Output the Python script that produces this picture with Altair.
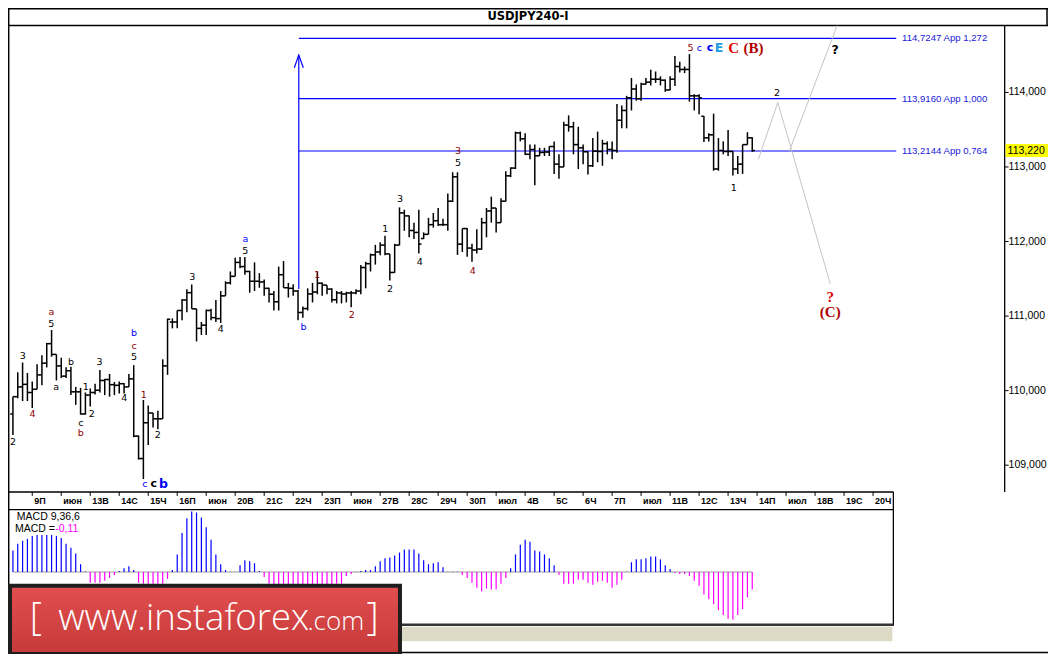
import altair as alt
import pandas as pd

# ---------------- data ----------------
bar_index = list(range(154))
bar_open = [109.687,109.919,110.050,110.084,109.975,110.018,110.211,110.368,110.630,110.486,
            110.332,110.194,110.267,109.984,109.984,109.687,109.940,109.975,110.005,110.136,
            110.149,110.080,110.071,110.093,110.050,110.158,109.390,109.089,109.569,109.700,
            109.622,109.622,110.332,110.920,110.921,111.075,111.215,111.314,111.097,110.835,
            110.878,111.075,110.979,110.966,111.271,111.445,111.533,111.720,111.664,111.598,
            111.467,111.467,111.458,111.372,111.293,111.192,111.555,111.380,111.372,111.336,
            111.048,111.101,111.297,111.323,111.441,111.415,111.362,111.219,111.310,111.297,
            111.310,111.310,111.336,111.651,111.703,111.821,111.860,111.952,111.834,111.585,
            111.952,112.384,112.344,112.148,112.122,112.040,112.096,112.226,112.279,112.226,
            112.226,112.541,112.868,111.965,112.174,111.912,111.886,111.899,112.253,112.410,
            112.449,112.253,112.541,112.881,112.985,113.457,113.378,113.170,113.234,113.150,
            113.195,113.200,113.274,113.038,113.000,113.562,113.539,113.300,113.257,113.204,
            113.016,113.212,113.208,113.313,113.234,113.221,113.627,113.758,113.928,114.046,
            113.915,114.111,114.137,114.177,114.177,114.164,114.033,114.177,114.347,114.308,
            114.308,113.954,113.954,113.680,113.391,113.431,112.973,113.221,113.208,113.208,
            112.973,113.038,113.300,113.391]
bar_high = [109.919,110.246,110.377,110.237,110.123,110.355,110.473,110.639,110.813,110.486,
            110.442,110.312,110.319,110.050,110.037,109.975,110.027,110.093,110.276,110.158,
            110.224,110.115,110.123,110.102,110.224,110.342,109.399,109.874,109.801,109.700,
            109.730,110.420,110.966,110.970,111.075,111.228,111.359,111.424,111.097,110.921,
            111.089,111.097,111.215,111.336,111.467,111.598,111.781,111.794,111.794,111.607,
            111.720,111.576,111.490,111.380,111.336,111.664,111.738,111.445,111.428,111.349,
            111.127,111.372,111.445,111.589,111.450,111.415,111.372,111.336,111.336,111.327,
            111.336,111.359,111.686,111.729,111.838,111.955,111.991,112.079,111.834,111.969,
            112.458,112.427,112.350,112.253,112.427,112.122,112.318,112.383,112.449,112.305,
            112.645,112.929,112.929,112.174,112.180,111.969,112.165,112.318,112.449,112.602,
            112.450,112.580,112.942,112.995,113.474,113.474,113.453,113.300,113.300,113.257,
            113.257,113.277,113.343,113.170,113.605,113.692,113.605,113.539,113.300,113.210,
            113.387,113.474,113.365,113.343,113.343,113.846,113.823,113.954,114.194,114.107,
            114.128,114.194,114.304,114.281,114.216,114.173,114.216,114.487,114.412,114.347,
            114.513,113.976,113.976,113.683,113.453,113.715,113.387,113.343,113.496,113.212,
            113.147,113.300,113.466,113.400]
bar_low = [109.406,109.897,109.861,109.861,109.766,110.018,110.071,110.312,110.455,110.136,
           110.168,110.168,109.940,109.809,109.678,109.678,109.788,109.949,109.975,109.940,
           109.919,109.940,109.962,109.962,110.050,109.375,109.076,108.814,109.272,109.504,
           109.482,109.622,110.211,110.835,110.835,110.944,111.052,111.097,110.660,110.747,
           110.747,110.944,110.921,110.908,111.271,111.424,111.533,111.641,111.555,111.314,
           111.336,111.380,111.271,111.183,111.075,111.075,111.380,111.249,111.271,110.944,
           110.979,111.075,111.183,111.293,111.271,111.293,111.183,111.170,111.170,111.183,
           111.118,111.293,111.293,111.372,111.598,111.690,111.817,111.817,111.476,111.580,
           111.950,112.144,112.056,112.034,111.838,112.034,112.096,112.187,112.209,112.209,
           112.144,112.530,111.821,111.860,111.795,111.729,111.838,111.890,112.056,112.253,
           112.122,112.253,112.537,112.864,112.973,113.343,113.160,113.103,112.754,113.147,
           113.147,113.147,112.907,112.842,113.000,113.474,113.170,112.973,113.038,112.898,
           113.000,113.064,113.016,113.169,113.103,113.191,113.518,113.518,113.758,113.889,
           113.889,114.107,114.094,114.128,114.094,114.007,114.030,114.085,114.268,114.259,
           113.876,113.758,113.706,113.335,113.343,112.950,112.950,113.169,113.147,112.885,
           112.907,112.907,113.300,113.204]
bar_close = [109.919,110.050,110.084,109.975,110.018,110.211,110.368,110.630,110.486,110.332,
             110.194,110.267,109.984,109.984,109.687,109.940,109.975,110.005,110.136,110.149,
             110.080,110.071,110.093,110.050,110.158,109.390,109.089,109.569,109.700,109.622,
             109.622,110.332,110.957,110.921,111.075,111.215,111.314,111.097,110.835,110.878,
             111.075,110.979,110.966,111.271,111.445,111.533,111.720,111.664,111.598,111.467,
             111.467,111.458,111.372,111.293,111.192,111.555,111.380,111.372,111.336,111.048,
             111.101,111.297,111.323,111.441,111.415,111.362,111.219,111.310,111.297,111.310,
             111.310,111.336,111.651,111.703,111.821,111.860,111.952,111.834,111.585,111.952,
             112.384,112.344,112.148,112.122,111.965,112.096,112.226,112.279,112.226,112.226,
             112.541,112.868,111.965,112.174,111.912,111.886,111.899,112.253,112.410,112.449,
             112.253,112.541,112.881,112.985,113.457,113.378,113.170,113.234,113.150,113.195,
             113.200,113.274,113.038,113.000,113.562,113.539,113.300,113.257,113.204,113.016,
             113.212,113.208,113.313,113.234,113.221,113.627,113.758,113.928,114.046,113.915,
             114.111,114.137,114.177,114.177,114.164,114.033,114.177,114.347,114.308,114.308,
             113.954,113.954,113.928,113.391,113.431,112.973,113.221,113.208,113.208,112.973,
             113.038,113.300,113.391,113.220]
macd_hist = [0.132,0.174,0.192,0.204,0.222,0.228,0.228,0.228,0.228,0.222,
             0.210,0.174,0.150,0.114,0.048,0.003,-0.066,-0.066,-0.066,-0.054,
             -0.036,-0.018,0.006,0.024,0.036,0.012,-0.066,-0.072,-0.072,-0.072,
             -0.072,-0.072,-0.042,0.012,0.108,0.240,0.330,0.372,0.366,0.336,
             0.276,0.198,0.108,0.048,0.012,0.002,0.002,0.042,0.072,0.066,
             0.054,0.006,-0.030,-0.072,-0.084,-0.102,-0.114,-0.120,-0.120,-0.114,
             -0.108,-0.108,-0.102,-0.096,-0.090,-0.084,-0.078,-0.072,-0.072,-0.024,
             -0.012,0.002,0.006,0.012,0.012,0.036,0.066,0.084,0.090,0.102,
             0.120,0.138,0.138,0.138,0.114,0.072,0.048,0.054,0.060,0.030,
             0.002,0.002,0.002,-0.018,-0.036,-0.066,-0.096,-0.120,-0.102,-0.108,
             -0.108,-0.072,-0.036,0.024,0.108,0.168,0.198,0.186,0.132,0.126,
             0.108,0.084,0.042,-0.018,-0.072,-0.072,-0.072,-0.048,-0.048,-0.066,
             -0.078,-0.060,-0.054,-0.066,-0.096,-0.078,-0.048,0.002,0.060,0.078,
             0.078,0.084,0.096,0.096,0.078,0.042,0.018,-0.006,-0.012,-0.012,
             -0.024,-0.054,-0.084,-0.138,-0.168,-0.198,-0.234,-0.264,-0.288,-0.294,
             -0.264,-0.228,-0.156,-0.108]

date_bars = [4,10,16,22,28,34,40,46,52,58,64,70,76,82,88,94,100,106,112,118,
             124,130,136,142,148,154,160,166,172,178]
date_labels = ["9П","июн","13В","14С","15Ч","16П","июн","20В","21С","22Ч","23П","июн",
               "27В","28С","29Ч","30П","июл","4В","5С","6Ч","7П","июл","11В","12С","13Ч",
               "14П","июл","18В","19С","20Ч"]
price_ticks = [109, 110, 111, 112, 113, 114]
price_tick_labels = ["109,000","110,000","111,000","112,000","113,000","114,000"]
last_price = 113.220
last_price_label = "113,220"

fib_levels = [114.7247, 113.9160, 113.2144]
fib_labels = ["114,7247 App 1,272", "113,9160 App 1,000", "113,2144 App 0,764"]
fib_start_bar = 59.16
fib_end_bar = 182.8
fib_label_bar = 184.0
arrow_bar = 59.16
arrow_from = 111.363
arrow_to = 114.5

proj1_bar = [154.27, 158.28, 169.15]
proj1_price = [113.103, 113.866, 111.432]
proj2_bar = [160.65, 170.57]
proj2_price = [113.212, 114.897]

# wave labels (normal weight)
wave_text = ["2","3","4","a","5","a","b","1","c","b","2","3","4","b","c","5","1","2","c",
             "3","4","a","5","b","1","2","1","2","3","4","3","5","4","5","c","1","2"]
wave_bar = [0.0,2.04,4.08,7.95,7.95,8.97,12.02,15.08,14.06,14.06,16.3,17.93,23.03,25.07,25.07,
            25.07,27.1,29.96,27.3,37.09,43.0,48.09,48.09,60.12,62.97,70.1,77.03,78.05,80.09,
            84.17,92.11,92.11,95.17,140.2,142.04,149.18,158.14]
wave_price = [109.31,110.46,109.69,111.06,110.90,110.05,110.38,110.05,109.57,109.43,109.69,
              110.38,109.90,110.77,110.60,110.45,109.94,109.40,108.75,111.52,110.83,112.03,
              111.87,110.85,111.55,111.02,112.17,111.36,112.57,111.73,113.21,113.05,111.61,
              114.60,114.60,112.72,113.99]
wave_tone = ["k","k","m","m","k","k","k","k","k","m","k","k","k","b","m","k","m","k","b",
             "k","k","b","k","b","m","m","k","k","k","k","m","k","m","m","b","k","k"]
# bold sans labels
bold_text = ["c", "c", "?", "b", "E"]
bold_bar = [29.14, 144.28, 170.16, 31.18, 146.1]
bold_price = [108.75, 114.60, 114.57, 108.75, 114.60]
bold_tone = ["k", "b", "k", "b", "c"]
bold_big = [False, False, True, True, True]
# serif bold labels
serif_text = ["C", "(B)", "?", "(C)"]
serif_bar = [149.18, 153.25, 169.14, 169.14]
serif_price = [114.60, 114.60, 111.26, 111.06]
serif_tone = ["r", "d", "r", "d"]

# ---------------- layout helpers ----------------
SX = 1040 / 1056
SY = 646 / 662


def PX(v):
    return round(v * SX, 2)


def PY(v):
    return round(v * SY, 2)


xs = alt.Scale(domain=[0, 153], range=[PX(5), PX(755.7)], nice=False, zero=False)
ps = alt.Scale(domain=[109, 114], range=[PY(468.5), PY(86.5)], nice=False, zero=False)
ms = alt.Scale(domain=[-0.3, 0.3], range=[PY(628), PY(528)], nice=False, zero=False)
tone_scale = alt.Scale(domain=["k", "m", "b", "c", "r", "d"],
                       range=["#000000", "#8b0000", "#0000ff", "#1e9be6", "#e00000", "#b00000"])

one = pd.DataFrame({"k": [0]})


def X(f):
    return alt.X(f, scale=xs, axis=None)


def YP(f):
    return alt.Y(f, scale=ps, axis=None)


def seg(x0, y0, x1, y1, color="black", w=1.0):
    return alt.Chart(one).mark_rule(color=color, strokeWidth=w, strokeCap="butt").encode(
        x=alt.value(PX(x0)), x2=alt.value(PX(x1)), y=alt.value(PY(y0)), y2=alt.value(PY(y1)))


def fixed_text(txt, x, y, **kw):
    align = kw.pop("align", "left")
    return alt.Chart(one).mark_text(text=txt, align=align, baseline="middle", **kw).encode(
        x=alt.value(PX(x)), y=alt.value(PY(y)))


layers = []

# frames
layers += [
    seg(0, 0.7, 1056, 0.7, w=1.5),
    seg(0, 18, 1056, 18, w=1.5),
    seg(0.7, 0, 0.7, 662, w=1.5),
    seg(1055, 0, 1055, 18, w=1.5),
    seg(1012, 18, 1012, 496, w=1.3),
    seg(0, 496, 899, 496, w=1.3),
    seg(0, 514, 899, 514, w=1.3),
    seg(899, 496, 899, 633, w=1.3),
    seg(0, 632, 899, 632, color="#333333", w=2.5),
    seg(0, 660.5, 1056, 660.5, w=1.5),
]
layers.append(alt.Chart(one).mark_rect(color="#dcdac4").encode(
    x=alt.value(PX(400)), x2=alt.value(PX(898)), y=alt.value(PY(634)), y2=alt.value(PY(649))))

# title
layers.append(fixed_text("USDJPY240-I", 528, 9.5, align="center", font="DejaVu Sans",
                         fontSize=11.5, fontWeight="bold", color="black"))

# fib lines and labels
fib_df = pd.DataFrame({"lvl": fib_levels, "lab": fib_labels, "s": [fib_start_bar] * 3,
                       "e": [fib_end_bar] * 3, "lb": [fib_label_bar] * 3})
layers.append(alt.Chart(fib_df).mark_rule(color="#0000ff", strokeWidth=1.2).encode(
    x=X("s:Q"), x2="e:Q", y=YP("lvl:Q")))
layers.append(alt.Chart(fib_df).mark_text(align="left", baseline="middle", font="Liberation Sans",
                                          fontSize=9.6, color="#1a1ad8").encode(
    x=X("lb:Q"), y=YP("lvl:Q"), text="lab:N"))

# arrow
arrow_df = pd.DataFrame({"i": [arrow_bar], "a": [arrow_from], "b": [arrow_to]})
layers.append(alt.Chart(arrow_df).mark_rule(color="#0000ff", strokeWidth=1.2).encode(
    x=X("i:Q"), y=YP("a:Q"), y2="b:Q"))
layers.append(alt.Chart(arrow_df).mark_point(shape="M -1 2.8 L 0 0 L 1 2.8", filled=False,
                                             color="#0000ff", size=81, strokeWidth=1.2,
                                             opacity=1).encode(
    x=X("i:Q"), y=YP("b:Q")))

# projection lines
p1 = pd.DataFrame({"i": proj1_bar, "p": proj1_price, "o": [0, 1, 2]})
p2 = pd.DataFrame({"i": proj2_bar, "p": proj2_price, "o": [0, 1]})
for d in (p1, p2):
    layers.append(alt.Chart(d).mark_line(color="#c4c4c4", strokeWidth=1).encode(
        x=X("i:Q"), y=YP("p:Q"), order="o:Q"))

# OHLC bars
bars = pd.DataFrame({"i": bar_index, "o": bar_open, "h": bar_high, "l": bar_low, "c": bar_close})
layers.append(alt.Chart(bars).mark_rule(color="black", strokeWidth=1.5).encode(
    x=X("i:Q"), y=YP("l:Q"), y2="h:Q"))
layers.append(alt.Chart(bars).transform_calculate(xa="datum.i - 0.55").mark_rule(
    color="black", strokeWidth=1.5).encode(x=X("xa:Q"), x2="i:Q", y=YP("o:Q")))
layers.append(alt.Chart(bars).transform_calculate(xb="datum.i + 0.55").mark_rule(
    color="black", strokeWidth=1.5).encode(x=X("i:Q"), x2="xb:Q", y=YP("c:Q")))

# wave labels
wl = pd.DataFrame({"t": wave_text, "i": wave_bar, "p": wave_price, "tone": wave_tone})
layers.append(alt.Chart(wl).mark_text(align="center", baseline="middle", font="DejaVu Sans",
                                      fontSize=9.5).encode(
    x=X("i:Q"), y=YP("p:Q"), text="t:N", color=alt.Color("tone:N", scale=tone_scale, legend=None)))
bl = pd.DataFrame({"t": bold_text, "i": bold_bar, "p": bold_price, "tone": bold_tone,
                   "big": bold_big})
layers.append(alt.Chart(bl).transform_filter("!datum.big").mark_text(
    align="center", baseline="middle", font="DejaVu Sans", fontSize=11, fontWeight="bold").encode(
    x=X("i:Q"), y=YP("p:Q"), text="t:N", color=alt.Color("tone:N", scale=tone_scale, legend=None)))
layers.append(alt.Chart(bl).transform_filter("datum.big").mark_text(
    align="center", baseline="middle", font="DejaVu Sans", fontSize=12.5, fontWeight="bold").encode(
    x=X("i:Q"), y=YP("p:Q"), text="t:N", color=alt.Color("tone:N", scale=tone_scale, legend=None)))
sl = pd.DataFrame({"t": serif_text, "i": serif_bar, "p": serif_price, "tone": serif_tone})
layers.append(alt.Chart(sl).mark_text(align="center", baseline="middle", font="Liberation Serif",
                                      fontSize=15, fontWeight="bold").encode(
    x=X("i:Q"), y=YP("p:Q"), text="t:N", color=alt.Color("tone:N", scale=tone_scale, legend=None)))

# price axis
pt = pd.DataFrame({"p": price_ticks, "lab": price_tick_labels})
layers.append(alt.Chart(pt).mark_rule(color="black", strokeWidth=1).encode(
    x=alt.value(PX(1012)), x2=alt.value(PX(1016)), y=YP("p:Q")))
layers.append(alt.Chart(pt).mark_text(align="left", baseline="middle", font="Liberation Sans",
                                      fontSize=10.5, color="black").encode(
    x=alt.value(PX(1016)), y=YP("p:Q"), text="lab:N"))
lp = pd.DataFrame({"p": [last_price], "lab": [last_price_label]})
layers.append(alt.Chart(lp).mark_rule(color="#ffff00", strokeWidth=13, strokeCap="butt").encode(
    x=alt.value(PX(1013)), x2=alt.value(PX(1056)), y=YP("p:Q")))
layers.append(alt.Chart(lp).mark_text(align="left", baseline="middle", font="Liberation Sans",
                                      fontSize=10.5, color="black").encode(
    x=alt.value(PX(1015)), y=YP("p:Q"), text="lab:N"))

# time axis
dd = pd.DataFrame({"i": date_bars, "t": date_labels})
layers.append(alt.Chart(dd).mark_rule(color="black", strokeWidth=1).encode(
    x=X("i:Q"), y=alt.value(PY(496)), y2=alt.value(PY(500))))
layers.append(alt.Chart(dd).mark_text(align="left", baseline="middle", dx=2, font="Liberation Sans",
                                      fontSize=9, fontWeight="bold", color="black").encode(
    x=X("i:Q"), y=alt.value(PY(505.5)), text="t:N"))

# MACD panel
zero_df = pd.DataFrame({"a": [0], "b": [153], "z": [0.0]})
layers.append(alt.Chart(zero_df).mark_rule(color="#9a9a9a", strokeWidth=1).encode(
    x=X("a:Q"), x2="b:Q", y=alt.Y("z:Q", scale=ms, axis=None)))
md = pd.DataFrame({"i": bar_index, "m": macd_hist})
layers.append(alt.Chart(md).mark_rule(strokeWidth=1.2).encode(
    x=X("i:Q"), y=alt.Y("m:Q", scale=ms, axis=None), y2=alt.datum(0),
    color=alt.condition("datum.m >= 0", alt.value("#0000ff"), alt.value("#ff00ff"))))
layers.append(fixed_text("MACD 9,36,6", 9, 522, font="Liberation Sans", fontSize=10.5, color="black"))
layers.append(fixed_text("MACD =", 7, 534, font="Liberation Sans", fontSize=10.5, color="black"))
layers.append(fixed_text("-0,11", 48, 534, font="Liberation Sans", fontSize=10.5, color="#ff00ff"))

# logo
grad = alt.Gradient(gradient="linear", stops=[alt.GradientStop(color="#e24e4e", offset=0),
                                              alt.GradientStop(color="#c63a3a", offset=1)],
                    x1=0, x2=0, y1=0, y2=1)
layers.append(alt.Chart(one).mark_rect(color=grad, stroke="#1e1e1e", strokeWidth=4).encode(
    x=alt.value(PX(2)), x2=alt.value(PX(398)), y=alt.value(PY(592)), y2=alt.value(PY(662))))
layers.append(alt.Chart(one).mark_text(text="[", align="left", baseline="alphabetic", font="Open Sans",
                                       fontSize=38, fontWeight=300, color="white").encode(
    x=alt.value(PX(22)), y=alt.value(PY(637))))
layers.append(alt.Chart(one).mark_text(text="www.instaforex", align="left", baseline="alphabetic",
                                       font="Open Sans", fontSize=36.5, fontWeight=300, color="white").encode(
    x=alt.value(PX(51)), y=alt.value(PY(637))))
layers.append(alt.Chart(one).mark_text(text=".com", align="left", baseline="alphabetic",
                                       font="Open Sans", fontSize=26, fontWeight=300, color="white").encode(
    x=alt.value(PX(304)), y=alt.value(PY(637))))
layers.append(alt.Chart(one).mark_text(text="]", align="left", baseline="alphabetic", font="Open Sans",
                                       fontSize=38, fontWeight=300, color="white").encode(
    x=alt.value(PX(364)), y=alt.value(PY(637))))

chart = alt.layer(*layers).resolve_scale(y="independent").properties(
    width=1040, height=646,
    autosize=alt.AutoSizeParams(type="none"),
    padding=0,
    background="white",
).configure_view(strokeWidth=0)

chart.save("out.html", embed_options={"renderer": "svg", "actions": False})
